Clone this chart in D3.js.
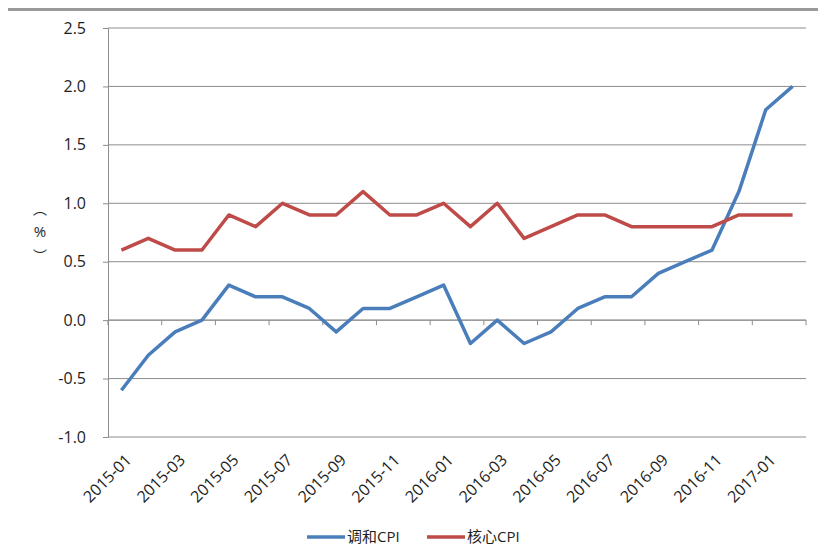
<!DOCTYPE html>
<html>
<head>
<meta charset="utf-8">
<script src="https://cdn.jsdelivr.net/npm/d3@7"></script>
<style>
  body { margin: 0; background: #fff; }
  text { font-family: "Open Sans", "Noto Sans CJK SC", sans-serif; fill: #1e1e1e; }
</style>
</head>
<body>
<div id="chart"></div>
<script>
var months = ['2015-01','2015-02','2015-03','2015-04','2015-05','2015-06','2015-07','2015-08','2015-09','2015-10','2015-11','2015-12',
    '2016-01','2016-02','2016-03','2016-04','2016-05','2016-06','2016-07','2016-08','2016-09','2016-10','2016-11','2016-12',
    '2017-01','2017-02'];
var hicp = [-0.6,-0.3,-0.1,0.0,0.3,0.2,0.2,0.1,-0.1,0.1,0.1,0.2,0.3,-0.2,0.0,-0.2,-0.1,0.1,0.2,0.2,0.4,0.5,0.6,1.1,1.8,2.0];
var coreCpi = [0.6,0.7,0.6,0.6,0.9,0.8,1.0,0.9,0.9,1.1,0.9,0.9,1.0,0.8,1.0,0.7,0.8,0.9,0.9,0.8,0.8,0.8,0.8,0.9,0.9,0.9];
var yTicks = [-1.0,-0.5,0.0,0.5,1.0,1.5,2.0,2.5];
var seriesNames = ['调和CPI', '核心CPI'];
var seriesColors = ['#4a7ebb', '#be4b48'];

var width = 818, height = 552;
var margin = {top: 28, right: 12, bottom: 115, left: 108};
var w = width - margin.left - margin.right;
var h = height - margin.top - margin.bottom;

var svg = d3.select('#chart').append('svg')
    .attr('width', width)
    .attr('height', height);

// top rule
svg.append('rect')
    .attr('x', 8).attr('y', 8)
    .attr('width', width - 8).attr('height', 3)
    .attr('fill', '#999');

var g = svg.append('g')
    .attr('transform', 'translate(' + margin.left + ',' + margin.top + ')');

var x = d3.scaleBand().domain(months).range([0, w]);
var y = d3.scaleLinear().domain([-1, 2.5]).range([h, 0]);

// gridlines
g.selectAll('.grid')
    .data(yTicks)
    .enter().append('line')
    .attr('class', 'grid')
    .attr('x1', 0).attr('x2', w)
    .attr('y1', d => y(d)).attr('y2', d => y(d))
    .attr('stroke', '#8c8c8c')
    .attr('stroke-width', 1);

// y axis
var yAxis = g.append('g')
    .call(d3.axisLeft(y).tickValues(yTicks)
        .tickFormat(d => d.toFixed(1))
        .tickSize(5).tickSizeOuter(0).tickPadding(17));
yAxis.select('.domain').attr('stroke', '#8c8c8c');
yAxis.selectAll('.tick line').attr('stroke', '#8c8c8c');
yAxis.selectAll('text').style('font-size', '16px').attr('fill', '#1e1e1e');

// x axis at zero
var boundaries = d3.range(0, months.length + 1, 2).map(i => i * x.step());
var xAxisG = g.append('g').attr('transform', 'translate(0,' + y(0) + ')');
xAxisG.append('line').attr('x1', 0).attr('x2', w).attr('stroke', '#8c8c8c');
xAxisG.selectAll('.tk')
    .data(boundaries)
    .enter().append('line')
    .attr('x1', d => d).attr('x2', d => d)
    .attr('y1', 0).attr('y2', 5)
    .attr('stroke', '#8c8c8c');

// x labels
g.selectAll('.xlab')
    .data(months.filter((m, i) => i % 2 === 0))
    .enter().append('text')
    .attr('class', 'xlab')
    .attr('text-anchor', 'end')
    .attr('transform', d => 'translate(' + (x(d) + x.bandwidth() / 2 + 11) + ',' + (h + 24) + ') rotate(-45)')
    .style('font-size', '16px')
    .text(d => d);

// y label, stacked vertically (vertical-form brackets)
var ylab = ['︵', '%', '︶'];
var ylabY = [209, 232, 256];
svg.selectAll('.ylab')
    .data(ylab)
    .enter().append('text')
    .attr('class', 'ylab')
    .attr('x', 40)
    .attr('y', (d, i) => ylabY[i])
    .attr('text-anchor', 'middle')
    .attr('dy', '0.35em')
    .style('font-family', (d, i) => i === 1 ? '"Open Sans", sans-serif' : '"Noto Sans CJK SC", sans-serif')
    .style('font-size', (d, i) => i === 1 ? '15px' : '14px')
    .text(d => d);

// lines
var line = d3.line()
    .x((d, i) => x(months[i]) + x.bandwidth() / 2)
    .y(d => y(d));

[hicp, coreCpi].forEach(function (s, k) {
    g.append('path')
        .datum(s)
        .attr('d', line)
        .attr('fill', 'none')
        .attr('stroke', seriesColors[k])
        .attr('stroke-width', 3.5)
        .attr('stroke-linejoin', 'round');
});

// legend
var legendX = [307, 427];
seriesNames.forEach(function (name, k) {
    var lg = svg.append('g').attr('transform', 'translate(' + legendX[k] + ',537)');
    lg.append('line').attr('x1', 0).attr('x2', 38).attr('stroke', seriesColors[k]).attr('stroke-width', 3.5);
    lg.append('text').attr('x', 40).attr('dy', '0.35em').style('font-size', '15px').text(name);
});
</script>
</body>
</html>
